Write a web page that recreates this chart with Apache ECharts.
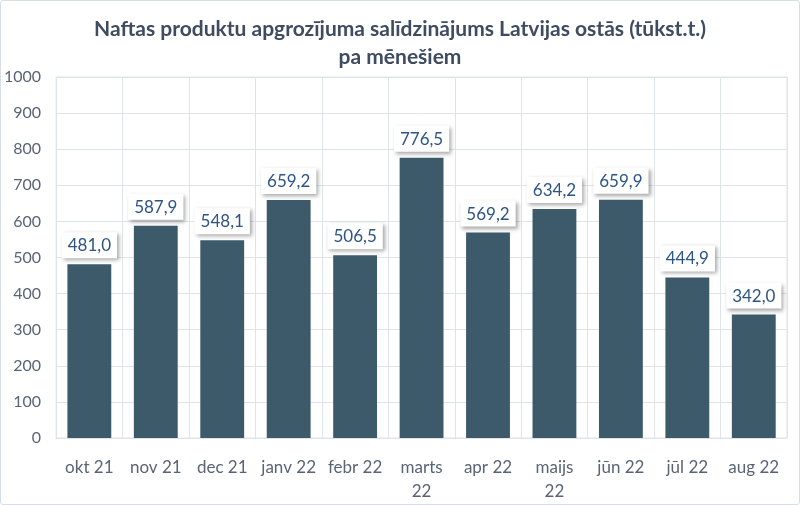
<!DOCTYPE html>
<html>
<head>
<meta charset="utf-8">
<script src="https://cdn.jsdelivr.net/npm/echarts@6/dist/echarts.min.js"></script>
<style>
  html, body { margin: 0; padding: 0; background: #fff; }
  #chart { width: 798px; height: 503px; border: 1px solid #d9dee5; border-radius: 3px; }
</style>
</head>
<body>
<div id="chart"></div>
<script>
const months = ["okt 21", "nov 21", "dec 21", "janv 22", "febr 22", "marts\n22", "apr 22", "maijs\n22", "jūn 22", "jūl 22", "aug 22"];
const volumes = [481.0, 587.9, 548.1, 659.2, 506.5, 776.5, 569.2, 634.2, 659.9, 444.9, 342.0];

const chart = echarts.init(document.getElementById("chart"));

chart.setOption({
  animation: false,
  title: {
    text: "Naftas produktu apgrozījuma salīdzinājums Latvijas ostās (tūkst.t.)\npa mēnešiem",
    left: "center",
    top: 9,
    textStyle: {
      fontFamily: "Lato",
      fontSize: 21,
      fontWeight: "bold",
      color: "#3e4b61",
      lineHeight: 28
    }
  },
  grid: { left: 54, right: 12, top: 76, bottom: 66, show: true, borderColor: "#dfe4ea", borderWidth: 1 },
  xAxis: {
    type: "category",
    data: months,
    axisLine: { show: true, lineStyle: { color: "#dfe4ea" } },
    axisTick: { show: false },
    splitLine: { show: true, lineStyle: { color: "#dfe4ea" } },
    axisLabel: {
      fontFamily: "Lato",
      fontSize: 17,
      color: "#5a6475",
      margin: 18,
      lineHeight: 24,
      interval: 0
    }
  },
  yAxis: {
    type: "value",
    min: 0,
    max: 1000,
    interval: 100,
    axisLine: { show: false },
    axisTick: { show: false },
    splitLine: { lineStyle: { color: "#dfe4ea" } },
    axisLabel: {
      fontFamily: "Lato",
      fontSize: 16,
      color: "#5a6475",
      margin: 15,
      formatter: v => String(v)
    }
  },
  series: [{
    type: "bar",
    data: volumes,
    barWidth: "66%",
    itemStyle: { color: "#3d5a6b" },
    label: {
      show: true,
      position: "top",
      distance: 6,
      formatter: p => p.value.toFixed(1).replace(".", ","),
      fontFamily: "Lato",
      fontSize: 17,
      color: "#2d5486",
      backgroundColor: "#ffffff",
      padding: [5, 6, 4, 6],
      shadowColor: "rgba(0,0,0,0.35)",
      shadowBlur: 4,
      shadowOffsetX: 2,
      shadowOffsetY: 2
    }
  }]
});
</script>
</body>
</html>
